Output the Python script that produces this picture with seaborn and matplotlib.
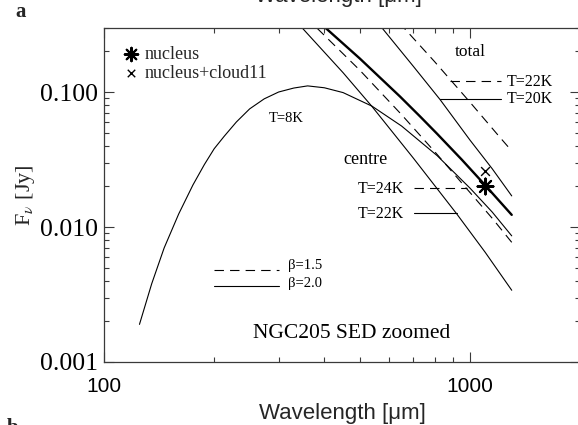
import matplotlib
matplotlib.use("Agg")
import matplotlib.pyplot as plt
import seaborn as sns
from matplotlib.lines import Line2D
from matplotlib.ticker import FixedLocator, FuncFormatter, NullFormatter, LogLocator

# ---------------- data: modified black-body SED curves (wavelength in um, flux in Jy) -------------
# cold component, T=8K, beta=2.0
wl_cold8 = [125, 135, 146, 160, 175, 188, 200, 213, 230, 250, 274, 300, 330, 360,
            400, 450, 540, 650, 813, 1000, 1150, 1300]
flux_cold8 = [0.0019, 0.0038, 0.0070, 0.0125, 0.0205, 0.029, 0.038, 0.047, 0.060,
              0.075, 0.089, 0.100, 0.107, 0.111, 0.1075, 0.099, 0.0785, 0.056,
              0.0338, 0.0194, 0.0129, 0.0086]

# centre, T=22K, beta=2.0
wl_centre22 = [300, 350, 450, 540, 700, 920, 1100, 1300]
flux_centre22 = [0.44, 0.293, 0.139, 0.078, 0.0324, 0.0125, 0.0065, 0.0034]

# centre, T=24K, beta=1.5
wl_centre24 = [330, 384, 500, 650, 813, 1000, 1150, 1300]
flux_centre24 = [0.42, 0.293, 0.145, 0.068, 0.0345, 0.018, 0.0116, 0.0077]

# nucleus fit
wl_nucleus = [350, 406, 500, 644, 730, 812, 950, 1100, 1300]
flux_nucleus = [0.412, 0.293, 0.177, 0.0925, 0.066, 0.0492, 0.0315, 0.0204, 0.0123]

# total, T=20K, beta=2.0
wl_total20 = [500, 578, 700, 828, 1000, 1150, 1300]
flux_total20 = [0.47, 0.293, 0.155, 0.088, 0.044, 0.027, 0.017]

# total, T=22K, beta=1.5
wl_total22 = [560, 664, 800, 1000, 1200, 1300]
flux_total22 = [0.48, 0.293, 0.168, 0.084, 0.047, 0.0366]

# measured points
point_wl = [1100]
nucleus_flux = [0.0200]
nucleus_cloud_flux = [0.0260]

x_major = [100, 1000]
y_major = [0.001, 0.01, 0.1]

# ---------------- style ----------------
sns.set_theme(style="ticks")
plt.rcParams.update({
    "font.family": ["Liberation Serif", "DejaVu Serif"],
    "mathtext.fontset": "stix",
    "axes.edgecolor": "#3a3a3a",
    "axes.linewidth": 0.9,
    "xtick.color": "#3a3a3a",
    "ytick.color": "#3a3a3a",
    "xtick.labelcolor": "black",
    "ytick.labelcolor": "black",
    "axes.facecolor": "white",
    "figure.facecolor": "white",
})
SANS = ["Liberation Sans", "DejaVu Sans"]

W, H = 578, 425
fig = plt.figure(figsize=(W / 100, H / 100), dpi=100)
AX_L, AX_R, AX_T, AX_B = 104.0, 580.2, 27.6, 362.0
ax = fig.add_axes([AX_L / W, 1 - AX_B / H, (AX_R - AX_L) / W, (AX_B - AX_T) / H])


def axfrac(px, py):
    """Pixel position on the canvas -> axes fraction."""
    return (px - AX_L) / (AX_R - AX_L), (AX_B - py) / (AX_B - AX_T)


ax.set_xscale("log")
ax.set_yscale("log")
ax.set_xlim(100, 2000)
ax.set_ylim(0.001, 0.3)

DASH = (0, (8.5, 5.5))
THIN = 0.8
curves = [
    (wl_cold8, flux_cold8, "-", THIN),
    (wl_centre22, flux_centre22, "-", THIN),
    (wl_centre24, flux_centre24, DASH, THIN),
    (wl_nucleus, flux_nucleus, "-", 1.7),
    (wl_total20, flux_total20, "-", THIN),
    (wl_total22, flux_total22, DASH, THIN),
]
for wl, fl, ls, lw in curves:
    sns.lineplot(x=wl, y=fl, ax=ax, color="black", linewidth=lw, linestyle=ls,
                 estimator=None, sort=False, legend=False)

star = (8, 2, 0)
ax.scatter(point_wl, nucleus_flux, marker=star, s=130, color="black",
           linewidths=1.5, zorder=5, label="nucleus")
ax.scatter(point_wl, nucleus_cloud_flux, marker="x", s=40, color="black",
           linewidths=1.0, zorder=5, label="nucleus+cloud11")

leg = ax.legend(loc="upper left", bbox_to_anchor=axfrac(123, 46), frameon=False,
                fontsize=13, handlelength=0.9, handletextpad=0.3, labelspacing=0.1,
                borderpad=0.0, borderaxespad=0.0, scatterpoints=1, markerscale=0.85)

# ---------------- axes and ticks ----------------
ax.xaxis.set_major_locator(FixedLocator(x_major))
ax.xaxis.set_minor_locator(LogLocator(base=10, subs=range(2, 10)))
ax.xaxis.set_major_formatter(FuncFormatter(lambda v, p: f"{v:.0f}"))
ax.xaxis.set_minor_formatter(NullFormatter())
ax.yaxis.set_major_locator(FixedLocator(y_major))
ax.yaxis.set_minor_locator(LogLocator(base=10, subs=range(2, 10)))
ax.yaxis.set_major_formatter(FuncFormatter(lambda v, p: f"{v:.3f}"))
ax.yaxis.set_minor_formatter(NullFormatter())

ax.tick_params(which="both", direction="in", top=True, right=True, width=0.8)
ax.tick_params(which="major", length=7.5)
ax.tick_params(which="minor", length=3.8)
ax.tick_params(axis="y", which="major", labelsize=18.5, pad=4)
ax.tick_params(axis="x", which="major", labelsize=15, pad=11)
for lab in ax.get_xticklabels():
    lab.set_fontfamily(SANS)

ax.set_xlabel("Wavelength [μm]", fontsize=16, family=SANS, labelpad=5)
ax.set_ylabel("F$_\\nu$ [Jy]", fontsize=16)
ax.yaxis.set_label_coords(-0.14, 0.5)

# ---------------- annotations ----------------
def label(px, py, s, size, ha="left"):
    ax.text(*axfrac(px, py), s, transform=ax.transAxes, fontsize=size,
            ha=ha, va="center", color="black")


def leader(px0, px1, py, ls):
    x0, y0 = axfrac(px0, py)
    x1, _ = axfrac(px1, py)
    ax.add_line(Line2D([x0, x1], [y0, y0], transform=ax.transAxes, color="black",
                       linewidth=THIN, linestyle=ls))


label(286, 118, "T=8K", 10.5, ha="center")
label(470, 52, "total", 12.5, ha="center")
label(507, 82, "T=22K", 11.5)
leader(450, 501, 81, DASH)
label(507, 99, "T=20K", 11.5)
leader(440, 501, 99, "-")
label(366, 159, "centre", 13, ha="center")
label(404, 189, "T=24K", 11.5, ha="right")
leader(414, 467, 188, DASH)
label(404, 214, "T=22K", 11.5, ha="right")
leader(414, 457, 213, "-")

leader(214, 279, 270, DASH)
label(288, 265, "β=1.5", 10.5)
leader(214, 279, 286, "-")
label(288, 283, "β=2.0", 10.5)

label(352, 333, "NGC205 SED zoomed", 15.5, ha="center")

# panel letters and the neighbouring panel's axis title
fig.text(21 / W, 1 - 12 / H, "a", fontsize=15, fontweight="bold", ha="center", va="center")
fig.text(13 / W, 1 - 418 / H, "b", fontsize=15, fontweight="bold", ha="center", va="top")
fig.text(338 / W, 1 - 2 / H, "Wavelength [μm]", fontsize=16, family=SANS,
         ha="center", va="baseline")

fig.savefig("out.png", dpi=100)
